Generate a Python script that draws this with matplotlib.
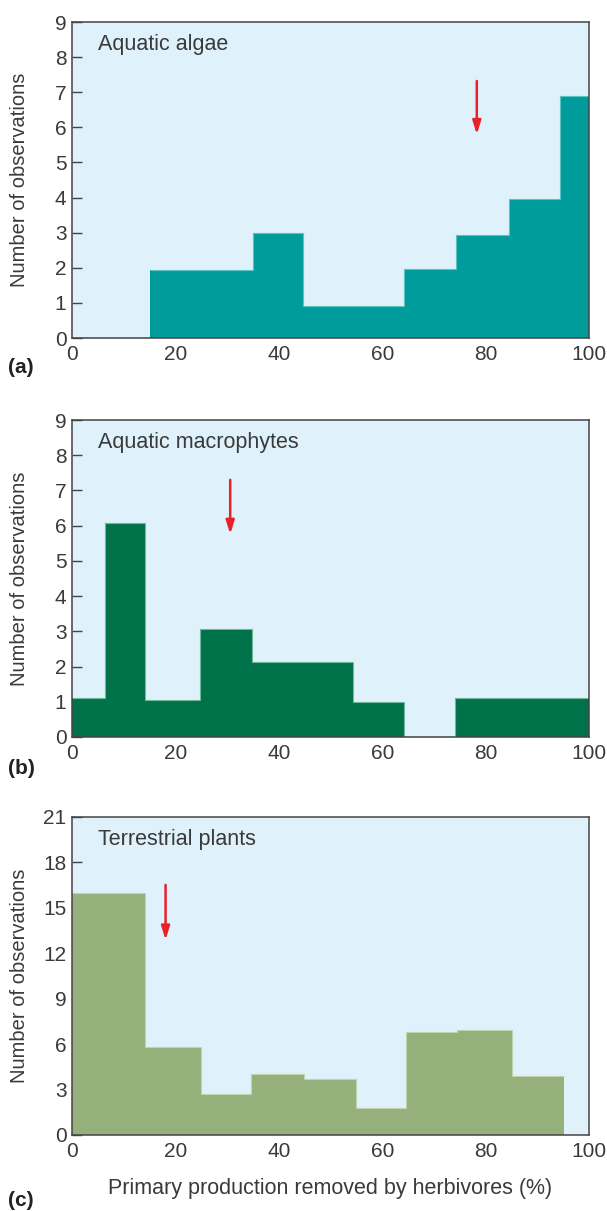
import matplotlib
matplotlib.use("Agg")
import matplotlib.pyplot as plt

plt.rcParams['font.family'] = ['Liberation Sans', 'DejaVu Sans']

# bin edges (% removed) and counts
algae_edges = [15, 35, 44.7, 64.3, 74.3, 84.6, 94.3, 100]
algae_counts = [1.93, 2.98, 0.92, 1.96, 2.93, 3.97, 6.89]

macro_edges = [0, 6.4, 14.1, 24.7, 34.9, 54.4, 64.2, 74.1, 100]
macro_counts = [1.10, 6.08, 1.05, 3.07, 2.12, 1.0, 0, 1.10]

terr_edges = [0, 14.1, 25.0, 34.6, 44.9, 55.0, 64.7, 74.5, 85.2, 95.2]
terr_counts = [16.0, 5.82, 2.70, 4.02, 3.71, 1.76, 6.77, 6.92, 3.87]

# mean values marked by arrows: x, arrow top, arrow tip
algae_arrow = (78.3, 7.4, 5.72)
macro_arrow = (30.6, 7.38, 5.68)
terr_arrow = (18.1, 16.7, 12.7)

panels = [
    ("Aquatic algae", "(a)", algae_edges, algae_counts, algae_arrow,
     "#009b9b", "#5cc3c3", [0, 1, 2, 3, 4, 5, 6, 7, 8, 9], 9),
    ("Aquatic macrophytes", "(b)", macro_edges, macro_counts, macro_arrow,
     "#00724a", "#6fb89a", [0, 1, 2, 3, 4, 5, 6, 7, 8, 9], 9),
    ("Terrestrial plants", "(c)", terr_edges, terr_counts, terr_arrow,
     "#95b07a", "#c2d4ae", [0, 3, 6, 9, 12, 15, 18, 21], 21),
]

fig = plt.figure(figsize=(6.07, 12.11), dpi=100)

# axes boxes in pixels: top, bottom, y of panel tag
boxes = [(22, 338, 368), (420, 737, 768), (817, 1135, 1200)]
W, H = 607, 1211
left, right = 72, 589

text_col = "#3a3a3a"
for (title, tag, edges, counts, arrow, fc, ec, yticks, ymax), (top, bot, tag_y) in zip(panels, boxes):
    ax = fig.add_axes([left / W, 1 - bot / H, (right - left) / W, (bot - top) / H])
    ax.set_facecolor("#dff1fb")
    ax.stairs(counts, edges, fill=True, color=fc, baseline=0, zorder=2)
    ax.stairs(counts, edges, color=ec, linewidth=0.8, baseline=None, zorder=3)
    ax.set_xlim(0, 100)
    ax.set_ylim(0, ymax)
    ax.set_xticks([0, 20, 40, 60, 80, 100])
    ax.set_yticks(yticks)
    ax.tick_params(axis='x', length=0, pad=5, labelsize=15, labelcolor=text_col)
    ax.tick_params(axis='y', direction='in', length=7, width=1, color="#444444",
                   pad=4, labelsize=15, labelcolor=text_col)
    for s in ax.spines.values():
        s.set_color("#444444")
        s.set_linewidth(1.1)
        s.set_zorder(4)
    ax.set_ylabel("Number of observations", fontsize=14.5, color=text_col)
    ax.yaxis.set_label_coords(-0.084, 0.5)
    ax.text(0.05, 0.93, title, transform=ax.transAxes, fontsize=15.5,
            color=text_col, va='center', ha='left')
    x, y0, y1 = arrow
    ax.annotate("", xy=(x, y1), xytext=(x, y0),
                arrowprops=dict(arrowstyle="-|>,head_length=0.8,head_width=0.25",
                                color="#e8202a", lw=1.8), zorder=5)
    fig.text(8 / W, 1 - tag_y / H, tag, fontsize=15, fontweight='bold',
             color="#222222", ha='left', va='center')
    last = ax

last.set_xlabel("Primary production removed by herbivores (%)", fontsize=15.5,
                color=text_col, labelpad=12)

fig.savefig("out.png", dpi=100)
